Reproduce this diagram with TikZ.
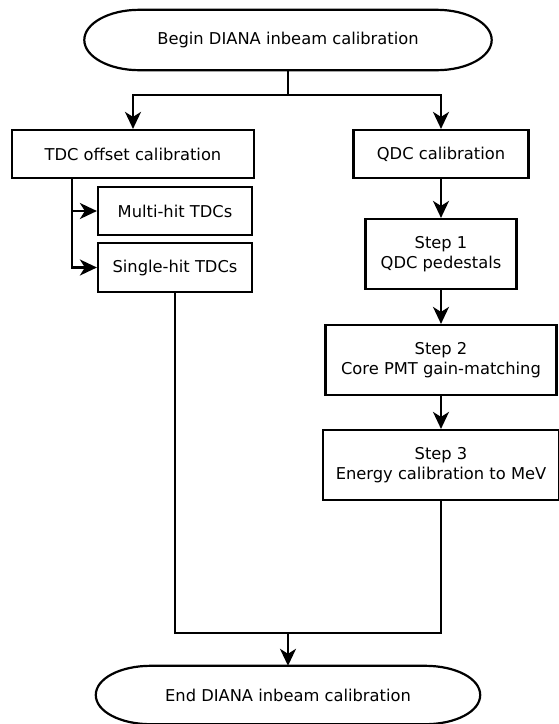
\documentclass[tikz,border=0pt]{standalone}
\usepackage{fontspec}
\setmainfont{DejaVu Sans}
\usetikzlibrary{arrows.meta}
\tikzset{
  box/.style={draw, line width=2.2pt, align=center, inner sep=0pt},
  term/.style={align=center, inner sep=0pt},
  wire/.style={line width=2.2pt},
  arr/.style={wire, -{Stealth[length=17pt,width=16pt,inset=5pt]}},
}
% outline of a start/end node: flat top and bottom, half-ellipse ends
\newcommand{\drawterm}[1]{%
  \draw[wire] ([xshift=55pt]#1.north west) -- ([xshift=-55pt]#1.north east)
    .. controls +(30.4,0) and +(0,-16.6) .. (#1.east)
    .. controls +(0,16.6) and +(30.4,0) .. ([xshift=-55pt]#1.south east)
    -- ([xshift=55pt]#1.south west)
    .. controls +(-30.4,0) and +(0,16.6) .. (#1.west)
    .. controls +(0,-16.6) and +(-30.4,0) .. ([xshift=55pt]#1.north west) -- cycle;}
\begin{document}
\begin{tikzpicture}[x=1pt, y=-1pt, every node/.style={font=\fontsize{16.3}{20.5}\selectfont}]
      \useasboundingbox (0,0) rectangle (558,724);
      % start and end
      \node[term, minimum width=407pt, minimum height=60pt] (begin) at (288,40) {Begin DIANA inbeam calibration};
      \node[term, minimum width=384pt, minimum height=58pt] (end) at (288,695) {End DIANA inbeam calibration};
      \drawterm{begin}
      \drawterm{end}
      % left branch: TDC
      \node[box, minimum width=242pt, minimum height=48pt] (tdc) at (133,154) {TDC offset calibration};
      \node[box, minimum width=154pt, minimum height=48pt] (multi) at (175,211) {Multi-hit TDCs};
      \node[box, minimum width=154pt, minimum height=49pt] (single) at (175,267.5) {Single-hit TDCs};
      % right branch: QDC steps
      \node[box, minimum width=175pt, minimum height=48pt] (qdc) at (441,154) {QDC calibration};
      \node[box, minimum width=151pt, minimum height=70pt] (step1) at (441,254) {Step 1\\QDC pedestals};
      \node[box, minimum width=231pt, minimum height=70pt] (step2) at (441,360) {Step 2\\Core PMT gain-matching};
      \node[box, minimum width=236pt, minimum height=70pt] (step3) at (441,465) {Step 3\\Energy calibration to MeV};
      % split
      \coordinate (split) at (begin.south |- 0,95);
      \draw[wire] (begin.south) -- (split);
      \draw[arr] (split) -| (tdc.north);
      \draw[arr] (split) -| (qdc.north);
      % TDC sub-steps
      \coordinate (tap) at ([xshift=-61pt]tdc.south);
      \draw[arr] (tap) |- (multi.west);
      \draw[arr] (tap) |- (single.west);
      % QDC chain
      \draw[arr] (qdc.south) -- (step1.north);
      \draw[arr] (step1.south) -- (step2.north);
      \draw[arr] (step2.south) -- (step3.north);
      % merge
      \coordinate (merge) at (end.north |- 0,633);
      \draw[wire] (single.south) |- (step3.south |- merge) -- (step3.south);
      \draw[arr] (merge) -- (end.north);
    \end{tikzpicture}
\end{document}
